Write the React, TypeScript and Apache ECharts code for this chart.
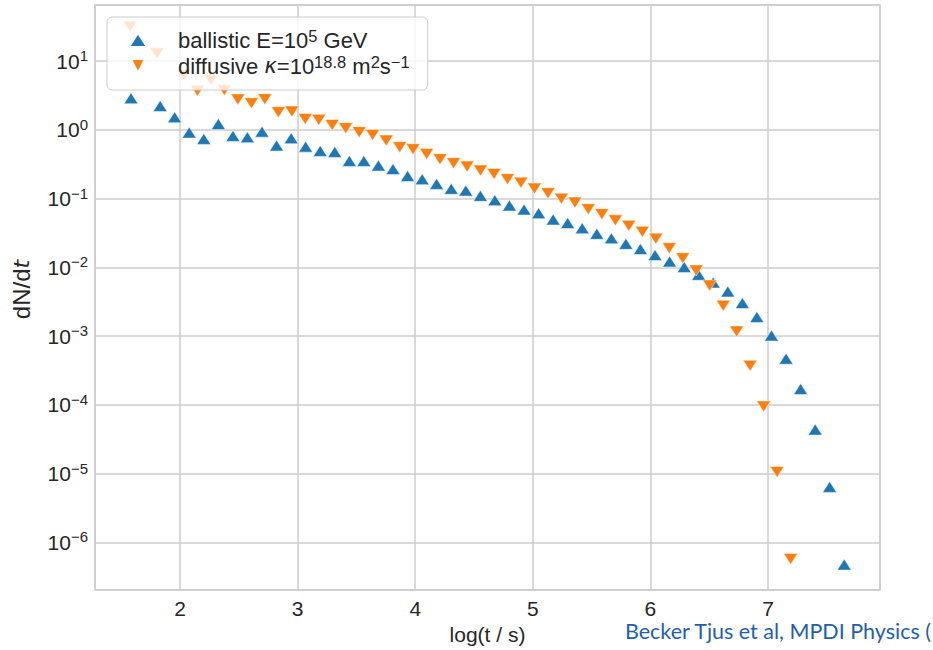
import { useEffect, useRef } from 'react';
import * as echarts from 'echarts';

// log10(t / s) of each ballistic bin and its dN/dt
const ballisticLogT = [
  1.583, 1.831, 1.954, 2.078, 2.202, 2.326, 2.45, 2.573, 2.697, 2.821,
  2.945, 3.068, 3.192, 3.316, 3.44, 3.563, 3.687, 3.811, 3.935, 4.059,
  4.182, 4.306, 4.43, 4.554, 4.677, 4.801, 4.925, 5.049, 5.173, 5.296,
  5.42, 5.544, 5.668, 5.791, 5.915, 6.039, 6.163, 6.287, 6.41, 6.534,
  6.658, 6.782, 6.905, 7.029, 7.153, 7.277, 7.401, 7.524, 7.648,
];
const ballisticRate = [
  2.89, 2.23, 1.53, 0.914, 0.74, 1.22, 0.818, 0.783, 0.944, 0.592,
  0.757, 0.571, 0.495, 0.479, 0.354, 0.354, 0.303, 0.269, 0.214, 0.192,
  0.164, 0.139, 0.131, 0.11, 0.0951, 0.0794, 0.0695, 0.0615, 0.0497, 0.0441,
  0.0372, 0.0308, 0.0265, 0.022, 0.0185, 0.0151, 0.0122, 0.0101, 0.0078, 0.00603,
  0.00447, 0.00303, 0.0019, 0.00102, 0.00047, 0.00017, 4.37e-5, 6.41e-6, 4.75e-7,
];

// log10(t / s) of each diffusive bin and its dN/dt
const diffusiveLogT = [
  1.575, 1.804, 2.034, 2.148, 2.263, 2.377, 2.492, 2.607, 2.721, 2.836,
  2.951, 3.065, 3.18, 3.294, 3.409, 3.524, 3.638, 3.753, 3.868, 3.982,
  4.097, 4.211, 4.326, 4.441, 4.555, 4.67, 4.785, 4.899, 5.014, 5.129,
  5.243, 5.358, 5.472, 5.587, 5.702, 5.816, 5.931, 6.046, 6.16, 6.275,
  6.389, 6.504, 6.619, 6.733, 6.848, 6.963, 7.077, 7.192,
];
const diffusiveRate = [
  31.7, 13.0, 6.3, 3.72, 5.36, 3.8, 2.78, 2.44, 2.8, 1.81,
  1.85, 1.44, 1.4, 1.18, 1.06, 0.926, 0.846, 0.699, 0.561, 0.524,
  0.448, 0.375, 0.328, 0.293, 0.256, 0.229, 0.192, 0.171, 0.14, 0.12,
  0.1, 0.0877, 0.0703, 0.0595, 0.0484, 0.0402, 0.0329, 0.0262, 0.019, 0.0136,
  0.00901, 0.00546, 0.00277, 0.00117, 0.000371, 9.5e-5, 1.06e-5, 5.75e-7,
];

const seriesNames = ['ballistic', 'diffusive'];
const xAxisTitle = 'log(t / s)';
const credit = 'Becker Tjus et al, MPDI Physics (';

const FONT = '"Liberation Sans", Arial, sans-serif';
const INK = '#262626';
const GRID = '#cccccc';
const DOWN = 'path://M0,0L2,0L1,2Z';

function powLabel(value: number) {
  const e = Math.log10(value);
  const r = Math.round(e);
  if (Math.abs(e - r) > 1e-6) return '';
  const s = r < 0 ? '\u2212' + -r : String(r);
  return `{b|10}{s|${s}}`;
}

export default function App() {
  const ref = useRef<HTMLDivElement>(null);
  useEffect(() => {
    if (!ref.current) return;
    const chart = echarts.init(ref.current, null, { renderer: 'svg' });
    const supRich = {
      b: { fontFamily: FONT, fontSize: 21, color: INK, lineHeight: 26 },
      s: { fontFamily: FONT, fontSize: 15, color: INK, lineHeight: 16, verticalAlign: 'top' },
    };
    chart.setOption({
      animation: false,
      backgroundColor: '#ffffff',
      grid: {
        left: 95, top: 5, width: 785, height: 585,
        show: true, borderColor: GRID, borderWidth: 1.5, backgroundColor: 'transparent',
        outerBoundsMode: 'none', containLabel: false,
      },
      xAxis: {
        type: 'value', min: 1.277, max: 7.952, minInterval: 1, maxInterval: 1,
        name: xAxisTitle, nameLocation: 'middle', nameGap: 30,
        nameTextStyle: { fontFamily: FONT, fontSize: 21, color: INK },
        axisLine: { show: false }, axisTick: { show: false },
        axisLabel: {
          fontFamily: FONT, fontSize: 21, color: INK, margin: 8,
          showMinLabel: false, showMaxLabel: false,
          formatter: (v: number) => (Math.abs(v - Math.round(v)) < 1e-6 ? String(Math.round(v)) : ''),
        },
        splitLine: { show: true, lineStyle: { color: GRID, width: 1.5 } },
      },
      yAxis: {
        type: 'log', logBase: 10, min: Math.pow(10, -6.693), max: Math.pow(10, 1.817),
        name: '{r|dN/d}{i|t}', nameLocation: 'middle', nameGap: 62, nameRotate: 90,
        nameTextStyle: {
          padding: [0, 0, 0, 16],
          rich: {
            r: { fontFamily: FONT, fontSize: 24, color: INK },
            i: { fontFamily: '"DejaVu Sans", sans-serif', fontSize: 22, fontStyle: 'italic', color: INK },
          },
        },
        axisLine: { show: false }, axisTick: { show: false },
        axisLabel: { margin: 7, formatter: powLabel, rich: supRich },
        splitLine: { show: true, lineStyle: { color: GRID, width: 1.5 } },
        minorTick: { show: false }, minorSplitLine: { show: false },
      },
      legend: {
        orient: 'vertical', left: 107, top: 17,
        padding: [10, 18, 13, 21],
        itemWidth: 18, itemHeight: 14, itemGap: 2,
        backgroundColor: 'rgba(255,255,255,0.8)', borderColor: GRID, borderWidth: 1, borderRadius: 5,
        data: [
          { name: seriesNames[0], icon: 'triangle' },
          { name: seriesNames[1], icon: DOWN },
        ],
        formatter: (name: string) =>
          name === 'ballistic'
            ? '{t|ballistic E=10}{s|5}{t| GeV}'
            : '{t|diffusive }{i|\u03ba}{t|=10}{s|18.8}{t| m}{s|2}{t|s}{s|\u22121}',
        textStyle: {
          padding: [0, 0, 0, 26],
          rich: {
            t: { fontFamily: FONT, fontSize: 22, color: INK, lineHeight: 26 },
            i: { fontFamily: '"DejaVu Sans", sans-serif', fontStyle: 'italic', fontSize: 21, color: INK, lineHeight: 26 },
            s: { fontFamily: FONT, fontSize: 16.5, color: INK, lineHeight: 16, verticalAlign: 'top' },
          },
        },
      },
      graphic: [
        {
          type: 'text', left: 625, top: 620,
          style: { text: credit, fontFamily: 'Lato, "Open Sans", sans-serif', fontSize: 21.5, fill: '#1f5fab' },
        },
      ],
      series: [
        {
          name: seriesNames[0], type: 'scatter', symbol: 'triangle', symbolSize: [14, 11],
          itemStyle: { color: '#1f77b4', borderColor: '#ffffff', borderWidth: 0.5, opacity: 1 },
          data: ballisticLogT.map((x, i) => [x, ballisticRate[i]]),
        },
        {
          name: seriesNames[1], type: 'scatter', symbol: DOWN, symbolSize: [14, 11],
          itemStyle: { color: '#ff7f0e', borderColor: '#ffffff', borderWidth: 0.5, opacity: 1 },
          data: diffusiveLogT.map((x, i) => [x, diffusiveRate[i]]),
        },
      ],
    });
    return () => chart.dispose();
  }, []);
  return <div ref={ref} style={{ position: 'fixed', left: 0, top: 0, width: 933, height: 650 }} />;
}
